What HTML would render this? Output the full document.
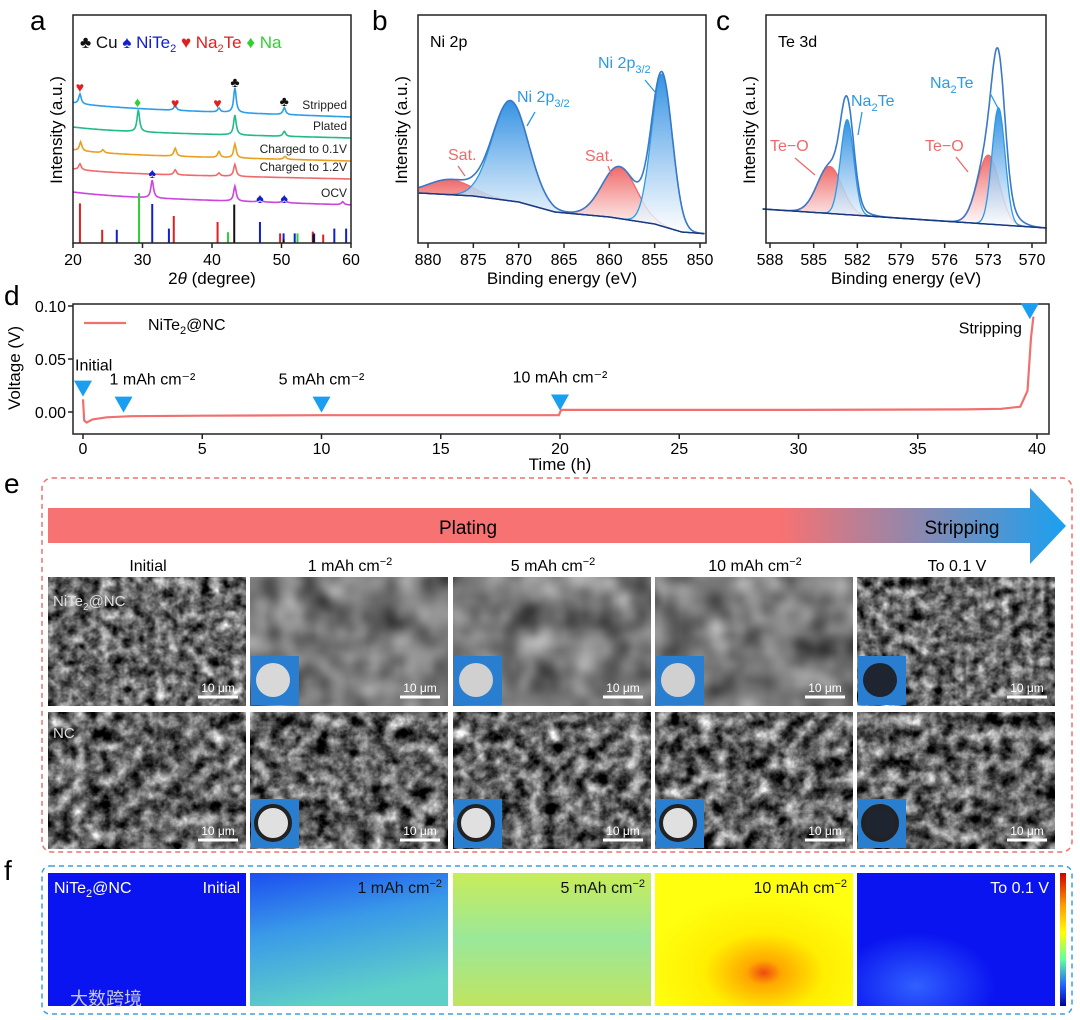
<!DOCTYPE html>
<html><head><meta charset="utf-8"><style>
html,body{margin:0;padding:0;background:#fff;}
svg{display:block;font-family:"Liberation Sans","Noto Sans CJK SC",sans-serif;}
</style></head><body>
<svg id="fig" width="1080" height="1020" viewBox="0 0 1080 1020" xmlns="http://www.w3.org/2000/svg">
<defs>
  <linearGradient id="gBlue" x1="0" y1="0" x2="0" y2="1"><stop offset="0" stop-color="#1f86e0"/><stop offset="1" stop-color="#ffffff" stop-opacity="0.9"/></linearGradient>
  <linearGradient id="gRed" x1="0" y1="0" x2="0" y2="1"><stop offset="0" stop-color="#ee5a5a"/><stop offset="1" stop-color="#ffffff" stop-opacity="0.9"/></linearGradient>
  <linearGradient id="gArrow" x1="0" y1="0" x2="1" y2="0"><stop offset="0" stop-color="#f77272"/><stop offset="0.72" stop-color="#f77272"/><stop offset="1" stop-color="#1aa0f0"/></linearGradient>
  <linearGradient id="gCbar" x1="0" y1="0" x2="0" y2="1"><stop offset="0" stop-color="#d00000"/><stop offset="0.25" stop-color="#ffa000"/><stop offset="0.45" stop-color="#ffff00"/><stop offset="0.65" stop-color="#60ffa0"/><stop offset="0.85" stop-color="#2060ff"/><stop offset="1" stop-color="#0000a0"/></linearGradient>
  <linearGradient id="hm1" x1="0" y1="0" x2="0.3" y2="1"><stop offset="0" stop-color="#1c4ef0"/><stop offset="0.45" stop-color="#3a9ae8"/><stop offset="1" stop-color="#5fd0c8"/></linearGradient>
  <linearGradient id="hm5" x1="0" y1="0" x2="0" y2="1"><stop offset="0" stop-color="#c8ec5a"/><stop offset="0.5" stop-color="#9ae89a"/><stop offset="1" stop-color="#c0e460"/></linearGradient>
  <radialGradient id="hm10" cx="0.55" cy="0.75" r="0.6"><stop offset="0" stop-color="#f04a10"/><stop offset="0.15" stop-color="#ffa800"/><stop offset="0.5" stop-color="#ffee00"/><stop offset="1" stop-color="#ffff10"/></radialGradient>
  <radialGradient id="hmEnd" cx="0.3" cy="0.85" r="0.4"><stop offset="0" stop-color="#3060ff"/><stop offset="1" stop-color="#0a14f0"/></radialGradient>
  <filter id="semA" x="0" y="0" width="1" height="1" color-interpolation-filters="sRGB"><feTurbulence type="fractalNoise" baseFrequency="0.09" numOctaves="3" seed="3"/><feColorMatrix type="matrix" values="0.9 0.9 0 0 -0.5  0.9 0.9 0 0 -0.5  0.9 0.9 0 0 -0.5  0 0 0 0 1"/></filter>
  <filter id="semB" x="0" y="0" width="1" height="1" color-interpolation-filters="sRGB"><feTurbulence type="fractalNoise" baseFrequency="0.03" numOctaves="2" seed="7"/><feColorMatrix type="matrix" values="0.5 0.5 0 0 -0.03  0.5 0.5 0 0 -0.03  0.5 0.5 0 0 -0.03  0 0 0 0 1"/></filter>
  <filter id="semC" x="0" y="0" width="1" height="1" color-interpolation-filters="sRGB"><feTurbulence type="fractalNoise" baseFrequency="0.07" numOctaves="4" seed="11"/><feColorMatrix type="matrix" values="1 1 0 0 -0.62  1 1 0 0 -0.62  1 1 0 0 -0.62  0 0 0 0 1"/></filter>
</defs>

<text x="30" y="30" font-size="28">a</text>
<text x="372" y="30" font-size="28">b</text>
<text x="716" y="30" font-size="28">c</text>
<text x="4" y="305" font-size="28">d</text>
<text x="4" y="493" font-size="28">e</text>
<text x="4" y="880" font-size="28">f</text>

<g id="pa"></g>
<g id="pb"></g>
<g id="pc"></g>
<g id="pd"></g>
<g id="pe"></g>
<g id="pf"></g>
</svg>
<script>
// ---------- DATA ----------
const xrdNames = ["Stripped","Plated","Charged to 0.1V","Charged to 1.2V","OCV"];
const xrdColors = ["#2c9ee8","#22bb88","#e8a020","#ee6a6a","#cc44dd"];
const xrdBaseLeft = [103,127,150,169,192];
const xrdBaseRight = [113,134,157,175,201];
const xrdPeaksStripped = [[21,10],[34.7,5],[41,4],[43.3,25],[50.4,7]];
const xrdPeaksPlated = [[29.4,22],[43.3,20],[50.4,5]];
const xrdPeaksCh01 = [[21.1,9],[24.3,3],[34.7,8],[41,6],[43.3,14],[50.5,3]];
const xrdPeaksCh12 = [[21,6],[34.7,5],[41,3],[43.3,12]];
const xrdPeaksOCV = [[31.4,18],[43.3,15],[46.9,4],[50.4,5],[58.8,3]];
const stickRed = [[21,0.66],[24.2,0.22],[34.5,0.45],[40.8,0.35],[49.8,0.16],[54.5,0.19],[56,0.14]];
const stickGreen = [[29.5,0.83],[42.3,0.18],[52.3,0.16]];
const stickBlue = [[26.3,0.22],[31.4,0.65],[33.8,0.24],[46.9,0.35],[50.3,0.16],[51.9,0.16],[54.7,0.16],[57.6,0.24],[59.3,0.24]];
const stickBlack = [[43.2,0.64],[50.3,0.06],[54.6,0.14]];
const xrdTicks = [20,30,40,50,60];
const niBase = [[881,193],[875,196],[870,202],[866,212],[860,217],[855,224],[852,232],[849,234]];
const niBlue = [[870.9,100,2.0],[854.2,152,1.15]];
const niRed = [[877.6,15,2.4],[858.9,52,1.9]];
const niTicks = [880,875,870,865,860,855,850];
const teBase = [[588.5,209],[569,228]];
const teBlue = [[582.7,95,0.45],[572.3,117,0.45]];
const teRed = [[583.9,47,0.85],[573.0,69,0.75]];
const teEnvExtra = [[582.4,6,0.9],[572.0,14,0.9]];
const teTicks = [588,585,582,579,576,573,570];
const vTime = [0,0.05,0.15,0.4,1,2,5,10,15,19.95,20.05,22,30,37,38.5,39.3,39.6,39.75,39.85];
const vVolt = [0.012,-0.008,-0.010,-0.007,-0.005,-0.004,-0.0035,-0.003,-0.003,-0.003,0.002,0.002,0.002,0.0025,0.003,0.005,0.02,0.07,0.09];
const dTicksX = [0,5,10,15,20,25,30,35,40];
const dTicksY = [0,0.05,0.10];
const markT = [0,1.7,10,20,39.7];
const markV = [0.022,0.007,0.007,0.009,0.095];
const markLabels = ["Initial","1 mAh cm⁻²","5 mAh cm⁻²","10 mAh cm⁻²","Stripping"];
const colLabels = ["Initial","1 mAh cm","5 mAh cm","10 mAh cm","To 0.1 V"];
const colSup = ["","−2","−2","−2",""];

const NS="http://www.w3.org/2000/svg";
function mk(parent,tag,attrs,text){const e=document.createElementNS(NS,tag);for(const k in attrs)e.setAttribute(k,attrs[k]);if(text!==undefined)e.textContent=text;parent.appendChild(e);return e;}
function box(g,x0,y0,x1,y1){const r=mk(g,'rect',{x:x0,y:y0,width:x1-x0,height:y1-y0,fill:'none',stroke:'#222','stroke-width':1.5});}

(function(){
const g=document.getElementById('pa');
const X0=73,X1=351,Y0=15,Y1=243;
const xs=v=>X0+(v-20)/(40)*(X1-X0);
const series=[xrdPeaksStripped,xrdPeaksPlated,xrdPeaksCh01,xrdPeaksCh12,xrdPeaksOCV];
series.forEach((pk,i)=>{
  let d='';
  for(let t=20;t<=60.001;t+=0.1){
    let y=xrdBaseLeft[i]+(xrdBaseRight[i]-xrdBaseLeft[i])*(t-20)/40 - 4*Math.exp(-(t-20)/6)+4;
    pk.forEach(p=>{y-=p[1]/(1+((t-p[0])/0.22)**2);});
    d+=(d?'L':'M')+xs(t).toFixed(1)+','+y.toFixed(1);
  }
  const p=mk(g,'path',{d:d,fill:'none',stroke:xrdColors[i],'stroke-width':1.6});
  
  
  const t=mk(g,'text',{x:347,y:xrdBaseRight[i]-4,'font-size':12,'text-anchor':'end',fill:'#222'},xrdNames[i]);
  
  
});
[[stickRed,'#e02020'],[stickGreen,'#30d030'],[stickBlue,'#1020d0'],[stickBlack,'#111']].forEach(s=>{
  s[0].forEach(p=>{
    const l=mk(g,'line',{x1:xs(p[0]),x2:xs(p[0]),y1:Y1,y2:Y1-p[1]*60,stroke:s[1],'stroke-width':2});
    
    
  });
});
box(g,X0,Y0,X1,Y1);
xrdTicks.forEach(v=>{mk(g,'line',{x1:xs(v),x2:xs(v),y1:Y1,y2:Y1+5,stroke:'#222','stroke-width':1.5});
  const t=mk(g,'text',{x:xs(v),y:Y1+22,'font-size':16,'text-anchor':'middle'},v);});
const xt=mk(g,'text',{x:212,y:284,'font-size':17,'text-anchor':'middle'});xt.innerHTML='2<tspan font-style="italic">θ</tspan> (degree)';

const yt=mk(g,'text',{x:0,y:0,'font-size':17,'text-anchor':'middle',transform:'translate(62,130) rotate(-90)'},'Intensity (a.u.)');

const lg=mk(g,'text',{x:80,y:48,'font-size':17});
lg.innerHTML='<tspan fill="#111">♣ Cu </tspan><tspan fill="#1020d0">♠ NiTe<tspan font-size="11" dy="4">2</tspan></tspan><tspan dy="-4" fill="#e02020"> ♥ Na<tspan font-size="11" dy="4">2</tspan><tspan dy="-4">Te</tspan></tspan><tspan fill="#30d030"> ♦ Na</tspan>';

[[21,92,'♥','#e02020'],[29.3,107,'♦','#30d030'],[34.7,108,'♥','#e02020'],[40.8,108,'♥','#e02020'],[43.3,87,'♣','#111'],[50.4,106,'♣','#111'],[31.4,178,'♠','#1020d0'],[46.9,203,'♠','#1020d0'],[50.4,203,'♠','#1020d0']].forEach(m=>{
  const t=mk(g,'text',{x:xs(m[0]),y:m[1],'font-size':14,'text-anchor':'middle',fill:m[3]},m[2]);
  
});
})();

function xps(gid,X0,X1,Y0,Y1,xs,base,blue,red,extra,ticks,lo,hi,title){
  const g=document.getElementById(gid);
  const bl=E=>{for(let i=0;i<base.length-1;i++){const a=base[i],b=base[i+1];if(E<=a[0]&&E>=b[0])return a[1]+(b[1]-a[1])*(a[0]-E)/(a[0]-b[0]);}return base[base.length-1][1];};
  const gs=(E,p)=>p[1]*Math.exp(-0.5*((E-p[0])/p[2])**2);
  function comp(p,fill,stroke){
    let top='';
    for(let E=hi;E>=lo;E-=0.05){const y=bl(E)-gs(E,p);top+=(top?'L':'M')+xs(E).toFixed(1)+','+y.toFixed(1);}
    let back='';for(let E=lo;E<=hi;E+=0.05){back+='L'+xs(E).toFixed(1)+','+bl(E).toFixed(1);}
    const a=mk(g,'path',{d:top+back+'Z',fill:fill,opacity:0.9});
    const b=mk(g,'path',{d:top,fill:'none',stroke:stroke,'stroke-width':1.3});
  }
  red.forEach(p=>comp(p,'url(#gRed)','#ee6a6a'));
  blue.forEach(p=>comp(p,'url(#gBlue)','#2a9ae6'));
  let env='',bs='';
  for(let E=hi;E>=lo;E-=0.05){let y=bl(E);[...blue,...red,...extra].forEach(p=>y-=gs(E,p));env+=(env?'L':'M')+xs(E).toFixed(1)+','+y.toFixed(1);bs+=(bs?'L':'M')+xs(E).toFixed(1)+','+bl(E).toFixed(1);}
  const e=mk(g,'path',{d:env,fill:'none',stroke:'#3a78c8','stroke-width':1.6});
  const b=mk(g,'path',{d:bs,fill:'none',stroke:'#1a3a80','stroke-width':1.5});
  box(g,X0,Y0,X1,Y1);
  ticks.forEach(v=>{mk(g,'line',{x1:xs(v),x2:xs(v),y1:Y1,y2:Y1+5,stroke:'#222','stroke-width':1.5});
    const t=mk(g,'text',{x:xs(v),y:Y1+22,'font-size':16,'text-anchor':'middle'},v);});
  const xt=mk(g,'text',{x:(X0+X1)/2,y:284,'font-size':17,'text-anchor':'middle'},'Binding energy (eV)');
  const yt=mk(g,'text',{x:0,y:0,'font-size':17,'text-anchor':'middle',transform:'translate('+(X0-11)+',130) rotate(-90)'},'Intensity (a.u.)');
  const tt=mk(g,'text',{x:X0+12,y:47,'font-size':16},title);
  return g;
}
(function(){
const xs=E=>428+(880-E)*(272/30);
const g=xps('pb',418,706,15,243,xs,niBase,niBlue,niRed,[],niTicks,849.5,881,'Ni 2p');
function lab(x,y,html,col,n){const t=mk(g,'text',{x:x,y:y,'font-size':16,fill:col});t.innerHTML=html;}
lab(517,102,'Ni 2p<tspan font-size="11" dy="5">3/2</tspan>','#2a9ae6','label-ni2p-left');
lab(598,68,'Ni 2p<tspan font-size="11" dy="5">3/2</tspan>','#2a9ae6','label-ni2p-right');
lab(448,160,'Sat.','#ee6a6a','label-sat-left');
lab(585,161,'Sat.','#ee6a6a','label-sat-right');
[[535,112,527,126,'#2a9ae6'],[645,80,655,92,'#2a9ae6'],[458,166,465,176,'#ee6a6a'],[608,166,612,176,'#ee6a6a']].forEach(a=>{const l=mk(g,'line',{x1:a[0],y1:a[1],x2:a[2],y2:a[3],stroke:a[4],'stroke-width':1.3});});
})();
(function(){
const xs=E=>770+(588-E)*(262/18);
const g=xps('pc',766,1046,15,243,xs,teBase,teBlue,teRed,teEnvExtra,teTicks,569,588.5,'Te 3d');
function lab(x,y,html,col,n){const t=mk(g,'text',{x:x,y:y,'font-size':16,fill:col});t.innerHTML=html;}
lab(851,106,'Na<tspan font-size="11" dy="5">2</tspan><tspan dy="-5">Te</tspan>','#2a9ae6','label-na2te-left');
lab(930,88,'Na<tspan font-size="11" dy="5">2</tspan><tspan dy="-5">Te</tspan>','#2a9ae6','label-na2te-right');
lab(770,151,'Te−O','#ee6a6a','label-teo-left');
lab(925,151,'Te−O','#ee6a6a','label-teo-right');
[[862,112,858,135,'#2a9ae6'],[990,93,1000,112,'#2a9ae6'],[795,158,815,175,'#ee6a6a'],[956,157,968,172,'#ee6a6a']].forEach(a=>{const l=mk(g,'line',{x1:a[0],y1:a[1],x2:a[2],y2:a[3],stroke:a[4],'stroke-width':1.3});});
})();

(function(){
const g=document.getElementById('pd');
const X0=73,X1=1049,Y0=304,Y1=434;
const xs=t=>83+t*(1037-83)/40;
const ys=v=>412-v*(412-306)/0.10;
let d='';vTime.forEach((t,i)=>{d+=(i?'L':'M')+xs(t).toFixed(1)+','+ys(vVolt[i]).toFixed(1);});
const p=mk(g,'path',{d:d,fill:'none',stroke:'#f07070','stroke-width':2.2});
box(g,X0,Y0,X1,Y1);
dTicksX.forEach(v=>{mk(g,'line',{x1:xs(v),x2:xs(v),y1:Y1,y2:Y1+5,stroke:'#222','stroke-width':1.5});
  const t=mk(g,'text',{x:xs(v),y:Y1+20,'font-size':16,'text-anchor':'middle'},v);});
dTicksY.forEach(v=>{mk(g,'line',{x1:X0-5,x2:X0,y1:ys(v),y2:ys(v),stroke:'#222','stroke-width':1.5});
  const t=mk(g,'text',{x:X0-7,y:ys(v)+6,'font-size':16,'text-anchor':'end'},v.toFixed(2));});
const xt=mk(g,'text',{x:560,y:470,'font-size':17,'text-anchor':'middle'},'Time (h)');
const yt=mk(g,'text',{x:0,y:0,'font-size':17,'text-anchor':'middle',transform:'translate(20,368) rotate(-90)'},'Voltage (V)');
mk(g,'line',{x1:84,x2:126,y1:323,y2:323,stroke:'#f07070','stroke-width':2.2});
const lt=mk(g,'text',{x:148,y:330,'font-size':16});lt.innerHTML='NiTe<tspan font-size="11" dy="4">2</tspan><tspan dy="-4">@NC</tspan>';
markT.forEach((t,i)=>{
  const x=xs(t),y=ys(markV[i]);
  const m=mk(g,'path',{d:'M'+(x-9)+','+(y-8)+'L'+(x+9)+','+(y-8)+'L'+x+','+(y+8)+'Z',fill:'#1a9ef0'});
  
  let tx=x,ty=y-16,anc='middle';
  if(i===0){tx=x-8;ty=y-18;anc='start';}
  if(i===1){tx=x-14;ty=y-20;anc='start';}
  if(i===2||i===3){ty=y-20;}
  if(i===4){tx=x-8;ty=y+22;anc='end';}
  const l=mk(g,'text',{x:tx,y:ty,'font-size':16,'text-anchor':anc},markLabels[i]);
  
});
})();

(function(){
const g=document.getElementById('pe');
const r=mk(g,'rect',{x:42,y:478,width:1030,height:374,rx:10,fill:'none',stroke:'#ee7070','stroke-width':1.5,'stroke-dasharray':'5,4'});
const a=mk(g,'path',{d:'M48,508 L1030,508 L1030,488 L1066,526 L1030,564 L1030,543 L48,543Z',fill:'url(#gArrow)'});
const t1=mk(g,'text',{x:468,y:534,'font-size':19,'text-anchor':'middle'},'Plating');
const t2=mk(g,'text',{x:962,y:534,'font-size':19,'text-anchor':'middle'},'Stripping');
const cx=[48,250,453,655,857];
const filt=[['semA','semB','semB','semB','semA'],['semC','semC','semC','semC','semC']];
const rowY=[577,712],rowH=[129,137];
const disc=[['','#d8d8d8','#d0d0d0','#d0d0d0','#1e2430'],['','#e0e0e0','#e0e0e0','#e0e0e0','#1e2430']];
cx.forEach((x,c)=>{
  const l=mk(g,'text',{x:x+100,y:571,'font-size':16,'text-anchor':'middle'});
  l.innerHTML=colLabels[c]+(colSup[c]?'<tspan font-size="11" dy="-6">'+colSup[c]+'</tspan>':'');
  
  for(let rI=0;rI<2;rI++){
    const y=rowY[rI];
    const im=mk(g,'rect',{x:x,y:y,width:198,height:rowH[rI],filter:'url(#'+filt[rI][c]+')'});
    
    if(c>0){
      const ix=x+1,iy=y+rowH[rI]-50;
      mk(g,'rect',{x:ix,y:iy,width:48,height:49,fill:'#2a7ed0'});
      const d=mk(g,'circle',{cx:ix+22,cy:iy+24,r:17,fill:disc[rI][c],stroke:rI?'#222':'none','stroke-width':rI?4:0});
      
    }
    mk(g,'line',{x1:x+150,x2:x+190,y1:y+rowH[rI]-9,y2:y+rowH[rI]-9,stroke:'#fff','stroke-width':3});
    const sb=mk(g,'text',{x:x+170,y:y+rowH[rI]-14,'font-size':12,'text-anchor':'middle',fill:'#fff'},'10 μm');
    
  }
});
const n1=mk(g,'text',{x:53,y:606,'font-size':15,fill:'#ddd'});n1.innerHTML='NiTe<tspan font-size="10" dy="4">2</tspan><tspan dy="-4">@NC</tspan>';
const n2=mk(g,'text',{x:53,y:738,'font-size':15,fill:'#ddd'},'NC');
})();

(function(){
const g=document.getElementById('pf');
const r=mk(g,'rect',{x:42,y:866,width:1030,height:148,rx:8,fill:'none',stroke:'#3aa0e0','stroke-width':1.5,'stroke-dasharray':'5,4'});
const cx=[48,250,453,655,857];
const fills=['#0a14f0','url(#hm1)','url(#hm5)','url(#hm10)','url(#hmEnd)'];
cx.forEach((x,c)=>{
  const t=mk(g,'rect',{x:x,y:873,width:198,height:133,fill:fills[c]});
  
  const l=mk(g,'text',{x:x+192,y:893,'font-size':16,'text-anchor':'end',fill:c===0||c===4?'#fff':'#111'});
  l.innerHTML=colLabels[c]+(colSup[c]?'<tspan font-size="11" dy="-6">'+colSup[c]+'</tspan>':'');
  
});
const n=mk(g,'text',{x:54,y:893,'font-size':16,fill:'#fff'});n.innerHTML='NiTe<tspan font-size="11" dy="4">2</tspan><tspan dy="-4">@NC</tspan>';
const cb=mk(g,'rect',{x:1060,y:873,width:6,height:133,fill:'url(#gCbar)'});
const wm=mk(g,'text',{x:70,y:1005,'font-size':18,fill:'#c8c8d8','font-family':'"Noto Sans CJK SC",sans-serif'},'大数跨境');
})();
</script>
</body></html>
